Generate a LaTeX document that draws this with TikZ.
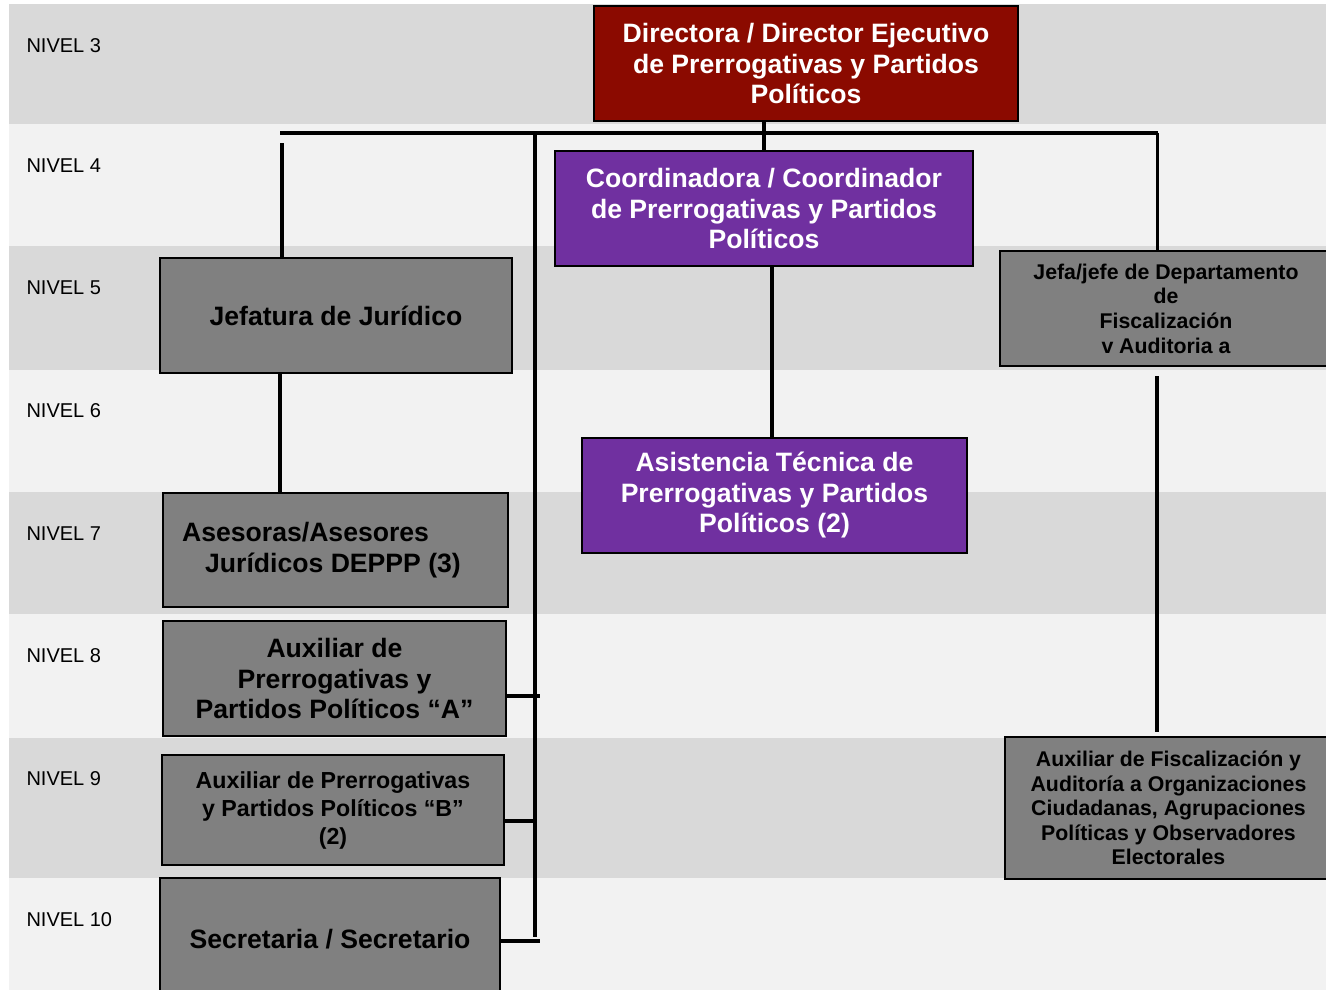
\documentclass[tikz,border=0pt]{standalone}
\usepackage{fontspec}
\setmainfont{Liberation Sans}
\definecolor{banddark}{HTML}{D9D9D9}
\definecolor{bandlight}{HTML}{F2F2F2}
\definecolor{dirred}{HTML}{8B0A00}
\definecolor{coordpurple}{HTML}{7030A0}
\definecolor{boxgray}{HTML}{808080}
\begin{document}
\begin{tikzpicture}[x=1pt, y=-1pt,
  level/.style={anchor=west, font=\fontsize{20}{23}\selectfont},
  unitbox/.style={draw=black, line width=2.5pt, rectangle, align=center, inner sep=0pt},
  redbox/.style={unitbox, fill=dirred, text=white, font=\fontsize{26.6}{30.5}\selectfont\bfseries},
  purplebox/.style={unitbox, fill=coordpurple, text=white, font=\fontsize{26.6}{30.5}\selectfont\bfseries},
  graybox/.style={unitbox, fill=boxgray, text=black, font=\fontsize{26.6}{30.5}\selectfont\bfseries},
  smallgray/.style={graybox, font=\fontsize{21.3}{24.6}\selectfont\bfseries},
  link/.style={draw=black, line width=3.2pt}]

\useasboundingbox (0,0) rectangle (1326,990);
\clip (0,0) rectangle (1326,990);

% Level bands
\fill[banddark] (9,4) rectangle (1326,124);
\fill[bandlight] (9,124) rectangle (1326,246);
\fill[banddark] (9,246) rectangle (1326,370);
\fill[bandlight] (9,370) rectangle (1326,492);
\fill[banddark] (9,492) rectangle (1326,614);
\fill[bandlight] (9,614) rectangle (1326,738);
\fill[banddark] (9,738) rectangle (1326,878);
\fill[bandlight] (9,878) rectangle (1326,990);

% Level labels
\node (n3) at (23,46) [level] {NIVEL 3};
\node (n4) at (23,166) [level] {NIVEL 4};
\node (n5) at (23,288) [level] {NIVEL 5};
\node (n6) at (23,411) [level] {NIVEL 6};
\node (n7) at (23,534) [level] {NIVEL 7};
\node (n8) at (23,656) [level] {NIVEL 8};
\node (n9) at (23,779) [level] {NIVEL 9};
\node (n10) at (23,920) [level] {NIVEL 10};

% Middle column
\node (dir) at (806,63.5) [redbox, minimum width=424pt, minimum height=115pt]
  {Directora / Director Ejecutivo\\de Prerrogativas y Partidos\\Políticos};
\node (coord) at (764,208.5) [purplebox, minimum width=418pt, minimum height=115pt]
  {Coordinadora / Coordinador\\de Prerrogativas y Partidos\\Políticos};
\node (asis) at (774.5,495.5) [purplebox, minimum width=385pt, minimum height=115pt]
  {Asistencia Técnica de\\Prerrogativas y Partidos\\Políticos (2)};

% Left column
\node (jur) at (336,315.5) [graybox, minimum width=352pt, minimum height=115pt]
  {Jefatura de Jurídico};
\node (ases) at (335.5,550) [graybox, minimum width=345pt, minimum height=114pt, align=left]
  {\hspace*{-28pt}Asesoras/Asesores\\\hspace*{-5pt}Jurídicos DEPPP (3)};
\node (auxa) at (334.5,678.5) [graybox, minimum width=343pt, minimum height=115pt]
  {Auxiliar de\\Prerrogativas y\\Partidos Políticos “A”};
\node (auxb) at (333,810) [graybox, minimum width=342pt, minimum height=110pt,
  font=\fontsize{23.2}{28}\selectfont\bfseries]
  {Auxiliar de Prerrogativas\\y Partidos Políticos “B”\\(2)};
\node (secr) at (330,939) [graybox, minimum width=340pt, minimum height=122pt]
  {Secretaria / Secretario};

% Right column
\node (fisc) at (1166,308.5) [smallgray, minimum width=332pt, minimum height=115pt]
  {Jefa/jefe de Departamento\\de\\Fiscalización\\v Auditoria a};
\node (auxf) at (1168.5,808) [smallgray, minimum width=327pt, minimum height=142pt]
  {Auxiliar de Fiscalización y\\Auditoría a Organizaciones\\Ciudadanas, Agrupaciones\\Políticas y Observadores\\Electorales};

% Bus and trunk
\coordinate (busL) at (280,133);
\coordinate (busR) at (1157.5,133);
\coordinate (trunkTop) at (535,133);
\coordinate (jurIn) at (282,143);
\coordinate (fiscOut) at (1157,376);

% Connectors
\draw[link] (busL) -- (busR);
\draw[link] (coord.north) -- (coord.north |- dir.south);
\draw[link] (jurIn) -- (jurIn |- jur.north);
\draw[link] (busR) -- (busR |- fisc.north);
\draw[link] ([xshift=-56pt]jur.south) -- ([xshift=-56pt]jur.south |- ases.north);
\draw[link] ([xshift=8pt]coord.south) -- ([xshift=8pt]coord.south |- asis.north);
\draw[link] (fiscOut) -- ([yshift=4pt]fiscOut |- auxf.north);
\draw[link] (trunkTop) -- ([yshift=2pt]trunkTop |- secr.east);
\draw[link] ([yshift=-17.5pt]auxa.east) -- ([yshift=-17.5pt,xshift=5pt]auxa.east -| trunkTop);
\draw[link] ([yshift=-11pt]auxb.east) -- ([yshift=-11pt]auxb.east -| trunkTop);
\draw[link] ([yshift=-2pt]secr.east) -- ([yshift=-2pt,xshift=5pt]secr.east -| trunkTop);

\end{tikzpicture}
\end{document}
